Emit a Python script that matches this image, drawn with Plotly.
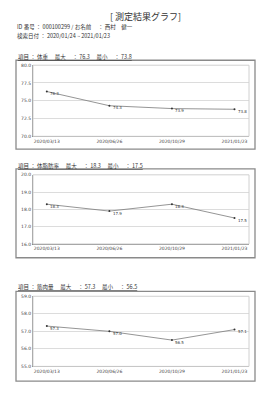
import plotly.graph_objects as go

# ---- data ----
dates = ["2020/03/13", "2020/06/26", "2020/10/29", "2021/01/23"]

weight = [76.3, 74.3, 73.9, 73.8]
weight_ticks = [70.0, 72.5, 75.0, 77.5, 80.0]

fat = [18.3, 17.9, 18.3, 17.5]
fat_ticks = [16.0, 17.0, 18.0, 19.0, 20.0]

muscle = [57.3, 57.0, 56.5, 57.1]
muscle_ticks = [55.0, 56.0, 57.0, 58.0, 59.0]

names = ["体重", "体脂肪率", "筋肉量"]

title = "[ 測定結果グラフ]"
id_line = "ID 番号 ： 000100299 / お名前 　： 西村　健一"
date_line = "検索日付 ： 2020/01/24 ~ 2021/01/23"

FONT = "Noto Sans CJK JP"
W, H = 274, 400

series = [weight, fat, muscle]
ticks = [weight_ticks, fat_ticks, muscle_ticks]

# layout in pixels (converted to paper)
plot_x = (33, 249)
plot_y = [(64, 136), (175, 245), (298, 369)]
box_y = [(59, 149), (169, 259), (293, 384)]
head_y = [56, 166, 289]
box_x = (16, 255)

def px(x):
    return x / W

def py(y):
    return 1 - y / H

fig = go.Figure()
layout = dict(
    width=W, height=H, margin=dict(l=0, r=0, t=0, b=0),
    paper_bgcolor="white", plot_bgcolor="white", showlegend=False,
    font=dict(family=FONT, color="#333"),
)
shapes = []
annotations = []

for i, (vals, tk, nm) in enumerate(zip(series, ticks, names)):
    n = "" if i == 0 else str(i + 1)
    xa, ya = "x" + n, "y" + n
    fig.add_trace(go.Scatter(
        x=dates, y=vals, xaxis=xa, yaxis=ya,
        mode="lines+markers",
        line=dict(color="#7a7a7a", width=0.8),
        marker=dict(size=2, color="#333"),
        cliponaxis=False,
    ))
    for d, v in zip(dates, vals):
        annotations.append(dict(
            xref=xa, yref=ya, x=d, y=v, text=f"{v:.1f}", showarrow=False,
            xanchor="left", yanchor="middle", xshift=1.5, yshift=-2,
            font=dict(size=4, color="#333", family="DejaVu Sans"),
        ))
    layout["xaxis" + n] = dict(
        domain=[px(plot_x[0]), px(plot_x[1])], anchor=ya,
        type="category", showgrid=False, showline=True, linecolor="#888",
        linewidth=1, ticks="", tickfont=dict(size=4.5, family="DejaVu Sans", color="#444"),
        fixedrange=True,
    )
    layout["yaxis" + n] = dict(
        domain=[py(plot_y[i][1]), py(plot_y[i][0])], anchor=xa,
        range=[tk[0], tk[-1]], tickvals=tk, ticktext=[f"{t:.1f}" for t in tk],
        showgrid=True, gridcolor="#dcdcdc", gridwidth=1,
        showline=True, linecolor="#888", linewidth=1, ticks="",
        tickfont=dict(size=4.5, family="DejaVu Sans", color="#444"),
        zeroline=False, fixedrange=True,
    )
    # plot area border (top/right)
    shapes.append(dict(type="rect", xref=xa + " domain", yref=ya + " domain",
                       x0=0, x1=1, y0=0, y1=1, line=dict(color="#d0d0d0", width=1)))
    # frame
    shapes.append(dict(type="rect", xref="paper", yref="paper",
                       x0=px(box_x[0]), x1=px(box_x[1]),
                       y0=py(box_y[i][1]), y1=py(box_y[i][0]),
                       line=dict(color="#8a8a8a", width=1.3)))
    header = f"<u>項目 ： {nm}　 最大 　： {max(vals):.1f} 　最小 　： {min(vals):.1f}</u>"
    annotations.append(dict(xref="paper", yref="paper", x=px(16), y=py(head_y[i]),
                            xanchor="left", yanchor="middle", showarrow=False,
                            text=header, font=dict(size=5.5, family=FONT, color="#333")))

annotations += [
    dict(xref="paper", yref="paper", x=px(145), y=py(15), xanchor="center", yanchor="middle",
         showarrow=False, text=title, font=dict(size=9, family=FONT, color="#333")),
    dict(xref="paper", yref="paper", x=px(15), y=py(25), xanchor="left", yanchor="middle",
         showarrow=False, text=id_line, font=dict(size=5.5, family=FONT, color="#333")),
    dict(xref="paper", yref="paper", x=px(15), y=py(34), xanchor="left", yanchor="middle",
         showarrow=False, text=date_line, font=dict(size=5.5, family=FONT, color="#333")),
]

layout["shapes"] = shapes
layout["annotations"] = annotations
fig.update_layout(**layout)
fig.write_html("out.html")
